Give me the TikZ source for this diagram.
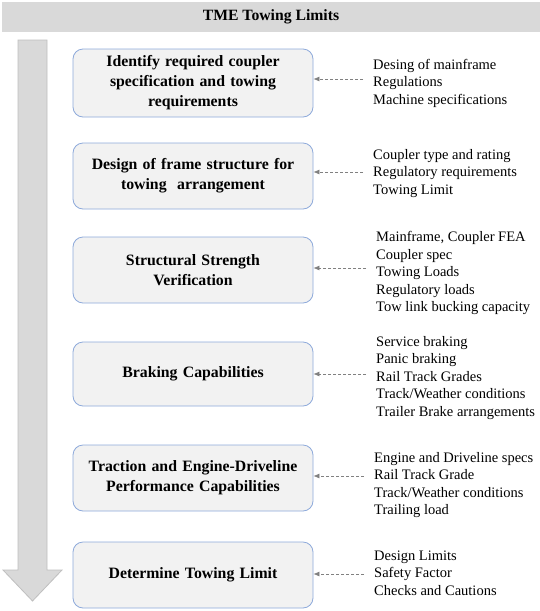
\documentclass[tikz,border=0pt]{standalone}
\usepackage{fontspec}
\setmainfont{Liberation Serif}
\usetikzlibrary{arrows.meta}
\definecolor{bargray}{HTML}{D9D9D9}
\definecolor{arrowedge}{HTML}{BFBFBF}
\definecolor{boxfill}{HTML}{F2F2F2}
\definecolor{boxedge}{HTML}{8EAADB}
\definecolor{dashgray}{HTML}{808080}
\tikzset{
  stepbox/.style={draw=boxedge, fill=boxfill, rounded corners=10pt, line width=0.8pt,
    minimum width=240pt, text width=234pt, align=center, inner sep=0pt,
    font=\fontsize{15.8}{20}\selectfont\bfseries},
  listtxt/.style={anchor=west, align=left, inner sep=0pt, font=\fontsize{14.5}{17.5}\selectfont},
  feed/.style={draw=dashgray, dashed, dash pattern=on 3pt off 2pt, line width=0.7pt, -{Latex[length=6pt,width=5pt]}}
}
\begin{document}
\begin{tikzpicture}[x=1pt,y=-1pt]
\useasboundingbox (0,0) rectangle (540,611);
\fill[white] (0,0) rectangle (540,611);
% title bar
\node[fill=bargray, minimum width=538pt, minimum height=30pt, inner sep=0pt,
  font=\fontsize{15.7}{18}\selectfont\bfseries] (title) at (271,17) {TME Towing Limits};
% big arrow
\draw[draw=arrowedge, fill=bargray, line width=0.8pt]
  (18,40) -- (47,40) -- (47,570) -- (62,570) -- (32.5,601) -- (3,570) -- (18,570) -- cycle;
% boxes
\node[stepbox, minimum height=68pt] (b1) at (193,83) {Identify required coupler\\specification and towing\\requirements};
\node[stepbox, minimum height=66pt] (b2) at (193,176) {Design of frame structure for\\towing\ \ arrangement};
\node[stepbox, minimum height=66pt] (b3) at (193,270) {Structural Strength\\Verification};
\node[stepbox, minimum height=64pt] (b4) at (193,374) {Braking Capabilities};
\node[stepbox, minimum height=66pt] (b5) at (193,478) {Traction and Engine-Driveline\\Performance Capabilities};
\node[stepbox, minimum height=66pt] (b6) at (193,575) {Determine Towing Limit};
% lists
\node[listtxt] (l1) at (373,83) {Desing of mainframe\\Regulations\\Machine specifications};
\node[listtxt] (l2) at (373,173.5) {Coupler type and rating\\Regulatory requirements\\Towing Limit};
\node[listtxt] (l3) at (376,273) {Mainframe, Coupler FEA\\Coupler spec\\Towing Loads\\Regulatory loads\\Tow link bucking capacity};
\node[listtxt] (l4) at (376,378) {Service braking\\Panic braking\\Rail Track Grades\\Track/Weather conditions\\Trailer Brake arrangements};
\node[listtxt] (l5) at (374,485) {Engine and Driveline specs\\Rail Track Grade\\Track/Weather conditions\\Trailing load};
\node[listtxt] (l6) at (374,573) {Design Limits\\Safety Factor\\Checks and Cautions};
% dashed connectors
\coordinate (c1) at (363,79);
\coordinate (c2) at (363,172);
\coordinate (c3) at (366,268);
\coordinate (c4) at (366,374);
\coordinate (c5) at (364,476);
\coordinate (c6) at (364,574);
\draw[feed] (c1) -- (c1 -| b1.east);
\draw[feed] (c2) -- (c2 -| b2.east);
\draw[feed] (c3) -- (c3 -| b3.east);
\draw[feed] (c4) -- (c4 -| b4.east);
\draw[feed] (c5) -- (c5 -| b5.east);
\draw[feed] (c6) -- (c6 -| b6.east);
\end{tikzpicture}
\end{document}
